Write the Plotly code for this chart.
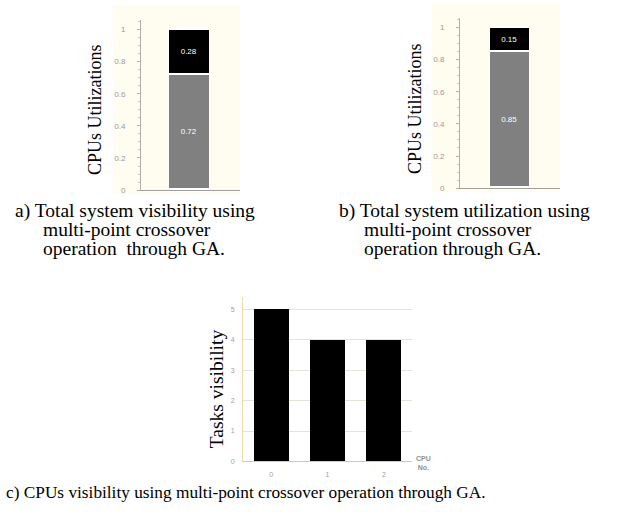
import plotly.graph_objects as go

W, H = 624, 516

# ---- data ----
util_a_busy = [0.72]
util_a_idle = [0.28]
util_b_busy = [0.85]
util_b_idle = [0.15]
cpu_ids = [0, 1, 2]
tasks_visibility = [5, 4, 4]
util_ticks = [0, 0.2, 0.4, 0.6, 0.8, 1]
util_ticklabels = ["0", "0.2", "0.4", "0.6", "0.8", "1"]
task_ticks = [0, 1, 2, 3, 4, 5]

SERIF = "Liberation Serif, Times New Roman, serif"
GREY = "#808080"


def px_x(x):
    return x / W


def px_y(y):
    return 1 - y / H


fig = go.Figure()

# Chart a
fig.add_trace(go.Bar(x=[0.49], y=util_a_busy, width=[0.41], marker=dict(color=GREY, line=dict(color="white", width=1.5)),
                     text=[f"{v:.2f}" for v in util_a_busy], textposition="inside", insidetextanchor="middle",
                     textfont=dict(color="white", size=8, family="Arial"), xaxis="x", yaxis="y", showlegend=False))
fig.add_trace(go.Bar(x=[0.49], y=util_a_idle, width=[0.41], marker=dict(color="black", line=dict(color="white", width=1.5)),
                     text=[f"{v:.2f}" for v in util_a_idle], textposition="inside", insidetextanchor="middle",
                     textfont=dict(color="white", size=8, family="Arial"), xaxis="x", yaxis="y", showlegend=False))
# Chart b
fig.add_trace(go.Bar(x=[0.5], y=util_b_busy, width=[0.40], marker=dict(color=GREY, line=dict(color="white", width=1.5)),
                     text=[f"{v:.2f}" for v in util_b_busy], textposition="inside", insidetextanchor="middle",
                     textfont=dict(color="white", size=8, family="Arial"), xaxis="x2", yaxis="y2", showlegend=False))
fig.add_trace(go.Bar(x=[0.5], y=util_b_idle, width=[0.40], marker=dict(color="black", line=dict(color="white", width=1.5)),
                     text=[f"{v:.2f}" for v in util_b_idle], textposition="inside", insidetextanchor="middle",
                     textfont=dict(color="white", size=8, family="Arial"), xaxis="x2", yaxis="y2", showlegend=False))
# Chart c
fig.add_trace(go.Bar(x=cpu_ids, y=tasks_visibility, width=0.62, marker=dict(color="black", line=dict(width=0)),
                     xaxis="x3", yaxis="y3", showlegend=False))

util_yaxis = dict(range=[0, 1.06], tickvals=util_ticks, ticktext=util_ticklabels,
                  tickfont=dict(size=8, color="#9a9a9a", family="Arial"), showgrid=False,
                  showline=True, linecolor="#b0b0b0", linewidth=1, ticks="outside", ticklen=3,
                  tickcolor="#b0b0b0", ticklabelstandoff=10, zeroline=False,
                  minor=dict(ticks="outside", ticklen=2, dtick=0.05, tickcolor="#c8c8c8"))
util_xaxis = dict(range=[0, 1], showticklabels=False, showgrid=False, showline=True, linecolor="#a0a0a0",
                  linewidth=1, zeroline=False, ticks="")

fig.update_layout(
    width=W, height=H, margin=dict(l=0, r=0, t=0, b=0),
    paper_bgcolor="white", plot_bgcolor="rgba(0,0,0,0)",
    barmode="stack", bargap=0,
    xaxis=dict(util_xaxis, domain=[px_x(141), px_x(240)], anchor="y"),
    yaxis=dict(util_yaxis, domain=[px_y(192), px_y(20)], anchor="x"),
    xaxis2=dict(util_xaxis, domain=[px_x(460), px_x(560)], anchor="y2"),
    yaxis2=dict(util_yaxis, domain=[px_y(190), px_y(18)], anchor="x2"),
    xaxis3=dict(range=[-0.5, 2.5], domain=[px_x(243), px_x(412)], anchor="y3", tickvals=cpu_ids,
                ticktext=[str(c) for c in cpu_ids], tickfont=dict(size=7, color="#a0a0a0", family="Arial"),
                showgrid=False, showline=True, linecolor="#e8c890", linewidth=1, zeroline=False, ticks="",
                ticklabelstandoff=6),
    yaxis3=dict(range=[0, 5.4], domain=[px_y(466), px_y(300)], anchor="x3", tickvals=task_ticks,
                tickfont=dict(size=7, color="#a0a0a0", family="Arial"), showgrid=True, gridcolor="#e6e3da",
                gridwidth=1, showline=True, linecolor="#f0d8a8", linewidth=1, zeroline=False,
                ticks="", ticklabelstandoff=6),
)

# cream backgrounds behind utilisation charts
for x0, x1, y0, y1 in [(113, 240, 5, 196), (432, 560, 3, 194)]:
    fig.add_shape(type="rect", xref="paper", yref="paper", x0=px_x(x0), x1=px_x(x1), y0=px_y(y1), y1=px_y(y0),
                  fillcolor="#fffcf0", line=dict(width=0), layer="below")

ann = []


def text(x, y, s, size=17, anchor="left", angle=0, color="black", family=SERIF):
    ann.append(dict(x=px_x(x), y=px_y(y), xref="paper", yref="paper", text=s, showarrow=False,
                    xanchor=anchor, yanchor="middle", textangle=angle,
                    font=dict(family=family, size=size, color=color)))


text(95, 110, "CPUs Utilizations", size=18, anchor="center", angle=-90)
text(415, 110, "CPUs Utilizations", size=18, anchor="center", angle=-90)
text(216, 393, "Tasks visibility", size=19.5, anchor="center", angle=-90)
text(414, 468, "<b>CPU<br>No.</b>", size=7, color="#909090", family="Arial")

CAP = 19.5
text(13, 213, "a) Total system visibility using", size=CAP)
text(41, 232, "multi-point crossover", size=CAP)
text(41, 251, "operation  through GA.", size=CAP)
text(337, 213, "b) Total system utilization using", size=CAP)
text(362, 232, "multi-point crossover", size=CAP)
text(362, 251, "operation through GA.", size=CAP)
text(4, 497, "c) CPUs visibility using multi-point crossover operation through GA.", size=17.3)

fig.update_layout(annotations=ann)
fig.write_html("out.html")
